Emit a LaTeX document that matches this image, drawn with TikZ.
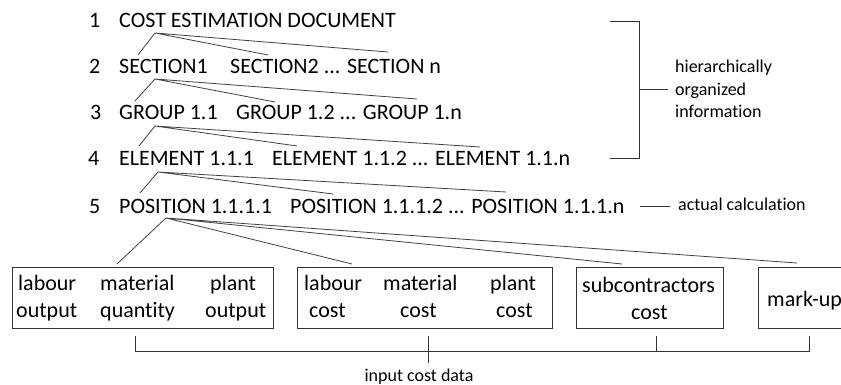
\documentclass[tikz,border=0pt]{standalone}
\usepackage{fontspec}
\setmainfont{Carlito}[Ligatures=NoCommon]
\begin{document}
\begin{tikzpicture}[x=1pt,y=-1pt,
  lvl/.style={anchor=base west, inner sep=0pt, font=\fontsize{22}{26}\selectfont},
  note/.style={anchor=base west, inner sep=0pt, font=\fontsize{18}{22.5}\selectfont},
  link/.style={draw=black!75, line width=0.8pt},
  frame/.style={draw=black!80, line width=0.9pt}]
\useasboundingbox (0,0) rectangle (841,385);

% level numbers
\node[lvl] (n1) at (89,28) {1};
\node[lvl] (n2) at (89,74) {2};
\node[lvl] (n3) at (90,120) {3};
\node[lvl] (n4) at (88,165) {4};
\node[lvl] (n5) at (89,213) {5};

% hierarchy levels
\node[lvl] (doc) at (119,28) {COST ESTIMATION DOCUMENT};
\node[lvl] (s1) at (119,74) {SECTION1};
\node[lvl] (s2) at (230,74) {SECTION2 ... SECTION n};
\node[lvl] (g1) at (119,120) {GROUP 1.1};
\node[lvl] (g2) at (236,120) {GROUP 1.2 ... GROUP 1.n};
\node[lvl] (e1) at (119,165) {ELEMENT 1.1.1};
\node[lvl] (e2) at (272,165) {ELEMENT 1.1.2 ... ELEMENT 1.1.n};
\node[lvl] (p1) at (119,213) {POSITION 1.1.1.1};
\node[lvl] (p2) at (290,213) {POSITION 1.1.1.2 ... POSITION 1.1.1.n};

% branching points and branch ends
\coordinate (a1) at (155,33);
\coordinate (a1l) at (138,55); \coordinate (a1m) at (268,55); \coordinate (a1r) at (388,52);
\coordinate (a2) at (155,79);
\coordinate (a2l) at (135,101); \coordinate (a2m) at (275,102); \coordinate (a2r) at (417,99);
\coordinate (a3) at (155,126);
\coordinate (a3l) at (139,146); \coordinate (a3m) at (297,146); \coordinate (a3r) at (480,147);
\coordinate (a4) at (158,172);
\coordinate (a4l) at (140,193); \coordinate (a4m) at (333,194); \coordinate (a4r) at (506,192);
\coordinate (a5) at (166,218);
\coordinate (b1t) at (117,264); \coordinate (b2t) at (352,264);
\coordinate (b3t) at (622,264); \coordinate (b4t) at (797,263);

\draw[link] (a1l) -- (a1) -- (a1m) (a1) -- (a1r);
\draw[link] (a2l) -- (a2) -- (a2m) (a2) -- (a2r);
\draw[link] (a3l) -- (a3) -- (a3m) (a3) -- (a3r);
\draw[link] (a4l) -- (a4) -- (a4m) (a4) -- (a4r);
\draw[link] (b1t) -- (a5) -- (b2t) (a5) -- (b3t) (a5) -- (b4t);

% input boxes
\node[frame, minimum width=261pt, minimum height=61pt, inner sep=0pt] (box1) at (142.5,297.5) {};
\node[frame, minimum width=255pt, minimum height=61pt, inner sep=0pt] (box2) at (424.5,297.5) {};
\node[frame, minimum width=147pt, minimum height=61pt, inner sep=0pt] (box3) at (649.5,297.5) {};
\node[frame, minimum width=110pt, minimum height=61pt, inner sep=0pt] (box4) at (813,297.5) {};

\node[lvl] (lo) at (18,290) {labour};
\node[lvl] (mq) at (100,290) {material};
\node[lvl] (po) at (210,290) {plant};
\node[lvl] (lo2) at (16,317) {output};
\node[lvl] (mq2) at (100,317) {quantity};
\node[lvl] (po2) at (205,317) {output};

\node[lvl] (lc) at (304,290) {labour};
\node[lvl] (mc) at (383,290) {material};
\node[lvl] (pc) at (490,290) {plant};
\node[lvl] (lc2) at (309,317) {cost};
\node[lvl] (mc2) at (400,317) {cost};
\node[lvl] (pc2) at (496,317) {cost};

\node[lvl] (sc) at (582,292) {subcontractors};
\node[lvl] (sc2) at (631,319) {cost};
\node[lvl] (mu) at (767,306) {mark-up};

% right-hand bracket and notes
\draw[frame] (610,21) -- (639,21) -- (639,158) -- (610,158);
\coordinate (hb) at (639,89);
\coordinate (hbe) at (668,89);
\draw[frame] (hb) -- (hbe);
\node[note, anchor=west, align=left] (hier) at (675,89) {hierarchically\\organized\\information};

\coordinate (acs) at (640,206);
\coordinate (ace) at (670,206);
\draw[frame] (acs) -- (ace);
\node[note] (act) at (678,210) {actual calculation};

% bottom bracket
\draw[frame] (135,336) -- (135,351) -- (809,351) -- (809,336);
\draw[frame] (656,336) -- (656,351);
\draw[frame] (428,336) -- (428,363);
\node[note, anchor=base] (inp) at (419,381) {input cost data};
\end{tikzpicture}
\end{document}
